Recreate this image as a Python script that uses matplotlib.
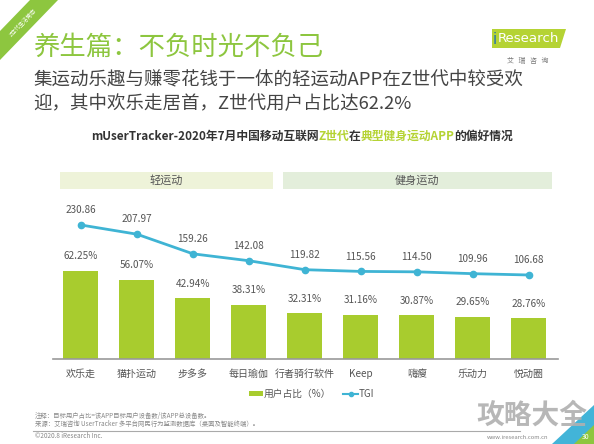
import matplotlib
matplotlib.use("Agg")
import matplotlib.pyplot as plt
from matplotlib.patches import Polygon, Rectangle
from matplotlib.lines import Line2D

plt.rcParams['font.family'] = ['Noto Sans CJK SC', 'DejaVu Sans']

# data
apps = ["欢乐走", "猫扑运动", "步多多", "每日瑜伽", "行者骑行软件", "Keep", "嗨瘦", "乐动力", "悦动圈"]
share = [62.25, 56.07, 42.94, 38.31, 32.31, 31.16, 30.87, 29.65, 28.76]
tgi = [230.86, 207.97, 159.26, 142.08, 119.82, 115.56, 114.50, 109.96, 106.68]
groups = ["轻运动", "健身运动"]

GREEN = "#a8cc2e"
BLUE = "#3fb4d4"
W, H = 594, 444

fig = plt.figure(figsize=(W / 100, H / 100), dpi=100)

# overlay in pixel coords for decorations
bg = fig.add_axes([0, 0, 1, 1], zorder=0)
bg.set_xlim(0, W)
bg.set_ylim(H, 0)
bg.axis("off")

# corner ribbon
bg.add_patch(Polygon([[30, 0], [58, 0], [0, 60], [0, 31]], closed=True, color="#8dc63f", lw=0))
bg.text(22, 22, "Z世代生活常态", rotation=46, color="white", fontsize=4, ha="center", va="center",
        rotation_mode="anchor")

# headline
bg.text(33, 47, "养生篇：不负时光不负己", color="#8dc63f", fontsize=19, va="center")
bg.text(33, 80, "集运动乐趣与赚零花钱于一体的轻运动APP在Z世代中较受欢", color="#444444", fontsize=13.3, va="center")
bg.text(33, 104, "迎，其中欢乐走居首，Z世代用户占比达62.2%", color="#444444", fontsize=13.3, va="center")

# logo
bg.add_patch(Polygon([[492, 29], [566, 29], [560, 48], [492, 48]], closed=True, color="#b5d334", lw=0))
bg.text(493, 39, "i", color="#1f6fb5", fontsize=10.5, va="center", family=["DejaVu Sans"])
bg.text(498, 39, "Research", color="white", fontsize=9.6, va="center", family=["DejaVu Sans"])
bg.text(528, 61, "艾   瑞   咨   询", color="#777777", fontsize=5, ha="center", va="center")

# chart title in coloured pieces
pieces = [("mUserTracker-2020年7月中国移动互联网", "#333333"), ("Z世代", "#b5d334"),
          ("在", "#333333"), ("典型健身运动APP", "#b5d334"), ("的偏好情况", "#333333")]
renderer = fig.canvas.get_renderer()
tmp = []
total = 0
for s, c in pieces:
    t = bg.text(0, 136, s, color=c, fontsize=8.5, fontweight="bold", va="center")
    wpx = t.get_window_extent(renderer).width
    tmp.append((t, wpx))
    total += wpx
x = 302 - total / 2
for t, wpx in tmp:
    t.set_x(x)
    x += wpx

# group bands
bg.add_patch(Rectangle((60, 171.5), 212.5, 17.5, color="#eef3d9", lw=0))
bg.add_patch(Rectangle((283, 171.5), 268.5, 17.5, color="#e3eedb", lw=0))
bg.text(166, 180.5, groups[0], color="#555555", fontsize=8, ha="center", va="center")
bg.text(417, 180.5, groups[1], color="#555555", fontsize=8, ha="center", va="center")

# main chart
ax = fig.add_axes([53 / W, 1 - 359 / H, 505 / W, 144 / H], zorder=1)
ax.patch.set_alpha(0)
xs = list(range(len(apps)))
ax.bar(xs, share, width=0.625, color=GREEN, zorder=2)
ax.set_xlim(-0.5, 8.52)
ax.set_ylim(0, 101.8)
for i, v in enumerate(share):
    ax.annotate(f"{v:.2f}%", (i, v), xytext=(0, 7), textcoords="offset points",
                ha="center", va="bottom", fontsize=7.2, color="#555555")
for s in ["top", "right", "left"]:
    ax.spines[s].set_visible(False)
ax.spines["bottom"].set_color("#999999")
ax.spines["bottom"].set_linewidth(1.2)
ax.set_yticks([])
ax.set_xticks(xs)
ax.set_xticklabels(apps, fontsize=7.2, color="#555555")
ax.tick_params(axis="x", length=0, pad=7)

ax2 = ax.twinx()
ax2.plot(xs, tgi, color=BLUE, lw=2, marker="o", ms=4.5, zorder=3)
ax2.set_ylim(-102, 255.7)
for i, v in enumerate(tgi):
    ax2.annotate(f"{v:.2f}", (i, v), xytext=(0, 7), textcoords="offset points",
                 ha="center", va="bottom", fontsize=7.2, color="#555555")
ax2.axis("off")

# legend
bg.add_patch(Rectangle((249, 391), 14, 5, color=GREEN, lw=0))
bg.text(264, 393.5, "用户占比（%）", color="#555555", fontsize=7, va="center")
bg.add_line(Line2D([343, 358], [393.5, 393.5], color=BLUE, lw=1.5))
bg.plot([350.5], [393.5], marker="o", ms=3, color=BLUE)
bg.text(359, 393.5, "TGI", color="#555555", fontsize=7, va="center")

# footer
bg.text(35, 416, "注释：目标用户占比=该APP目标用户设备数/该APP总设备数。", color="#888888", fontsize=4.6, va="center")
bg.text(35, 424, "来源：艾瑞咨询 UserTracker 多平台网民行为监测数据库（桌面及智能终端）。", color="#888888", fontsize=4.6, va="center")
bg.add_line(Line2D([33, 520], [430.5, 430.5], color="#aaaaaa", lw=0.8))
bg.text(35, 436, "©2020.8 iResearch Inc.", color="#888888", fontsize=4.6, va="center")
bg.text(518, 437, "www.iresearch.com.cn", color="#888888", fontsize=4.2, ha="center", va="center")
bg.add_patch(Polygon([[594, 405], [594, 444], [552, 444]], closed=True, color="#42b4d8", lw=0))
bg.add_patch(Polygon([[594, 425], [594, 444], [574, 444]], closed=True, color="#8dc63f", lw=0))
bg.text(586, 437, "30", color="white", fontsize=5, ha="center", va="center")
bg.text(532, 416, "攻略大全", color="#b0b0b0", fontsize=20, fontweight="bold", ha="center", va="center", alpha=0.9)

fig.savefig("out.png", dpi=100)
